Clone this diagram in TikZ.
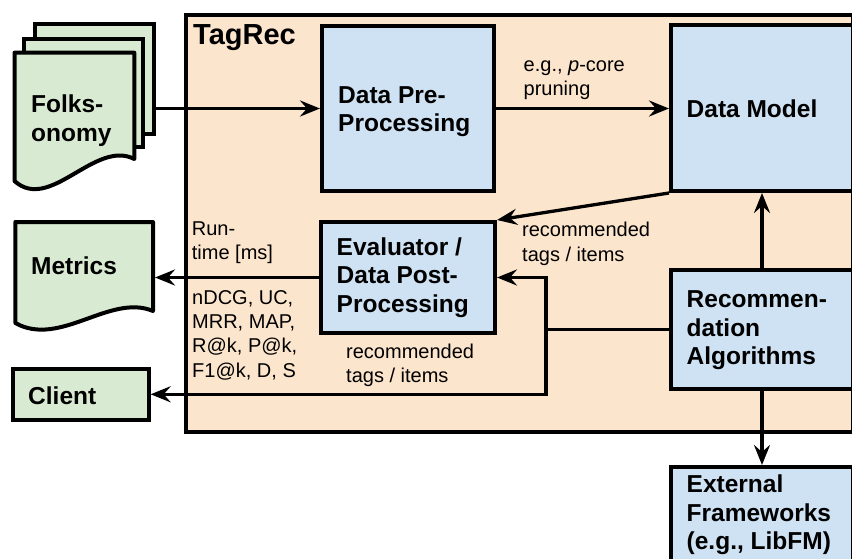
\documentclass[tikz,border=0pt]{standalone}
\usepackage{fontspec}
\setmainfont{Liberation Sans}
\usetikzlibrary{arrows.meta}
\definecolor{peach}{HTML}{FCE5CD}
\definecolor{lblue}{HTML}{CFE2F3}
\definecolor{lgreen}{HTML}{D9EAD3}
\newcommand\toph[1]{\rule{0pt}{#1}}
\begin{document}
\begin{tikzpicture}[x=1pt,y=-1pt,
  bluebox/.style={draw, line width=4pt, fill=lblue, anchor=center, inner sep=0pt},
  greenbox/.style={draw, line width=4pt, fill=lgreen, anchor=center, inner sep=0pt},
  docshape/.style={draw, line width=4pt, fill=lgreen, line join=round},
  btxt/.style={font=\fontsize{24.5}{28.5}\selectfont\bfseries, align=left, inner sep=0pt, anchor=north west},
  ltxt/.style={font=\fontsize{20}{24.3}\selectfont, align=left, inner sep=0pt, anchor=north west},
  conn/.style={line width=3.3pt, -{Stealth[length=20pt,width=16pt,inset=7pt]}},
  plainline/.style={line width=3.3pt}]
\useasboundingbox (0,0) rectangle (852,559);
\clip (0,0) rectangle (852,559);
\fill[white] (0,0) rectangle (852,559);

% container
\node[draw, line width=4pt, fill=peach, anchor=center, inner sep=0pt,
      minimum width=666.7, minimum height=417.3] (tagrec) at (519.7,223.3) {};
\node[anchor=base west, inner sep=0pt, font=\fontsize{29}{34}\selectfont\bfseries] (title) at (193,45) {TagRec};

% Folksonomy stack
\node[greenbox, minimum width=119.2, minimum height=109.4] (folkback) at (94.1,79) {};
\node[greenbox, minimum width=119.2, minimum height=108.3] (folkmid) at (83.4,92.85) {};
\path[docshape] (14.5,52.7) -- (134.3,52.7) -- (134.3,159)
   .. controls (95,139) and (50,213) .. (14.5,181) -- cycle;
\node[btxt] (folk) at (31,93.5) {\toph{19pt}Folks-\\onomy};

% Metrics document
\path[docshape] (15.3,222) -- (153,222) -- (153,311)
   .. controls (110,293) and (60,348) .. (15.3,323) -- cycle;
\node[inner sep=0pt, outer sep=2pt, minimum width=137.7, minimum height=100] (metrics) at (84.15,272) {};
\node[btxt] (metricstext) at (31,255.3) {\toph{19pt}Metrics};

% Client
\node[greenbox, minimum width=135.7, minimum height=51.3] (client) at (80.8,394.3) {};
\node[btxt] (clienttext) at (28,385) {\toph{19pt}Client};

% blue boxes
\node[bluebox, minimum width=172, minimum height=165] (dpp) at (408,108.5) {};
\node[btxt] (dpptext) at (338,84) {\toph{19pt}Data Pre-\\Processing};

\node[bluebox, minimum width=182, minimum height=166] (dm) at (762,108) {};
\node[btxt] (dmtext) at (686.5,98.3) {\toph{19pt}Data Model};

\node[bluebox, minimum width=174, minimum height=111] (eval) at (408,277.5) {};
\node[btxt] (evaltext) at (336.5,236) {\toph{19pt}Evaluator /\\Data Post-\\Processing};

\node[bluebox, minimum width=182, minimum height=119] (ra) at (762,329.5) {};
\node[btxt] (ratext) at (686.5,288.7) {\toph{19pt}Recommen-\\dation\\Algorithms};

\node[bluebox, minimum width=182, minimum height=95] (ext) at (762,514.5) {};
\node[btxt] (exttext) at (686.5,473.7) {\toph{19pt}External\\Frameworks\\(e.g., LibFM)};

% connectors
\coordinate (split) at ([xshift=-123pt]ra.west);
\draw[conn] (folkback.east |- dpp.west) -- (dpp.west);
\draw[conn] (dpp.east) -- (dpp.east -| dm.west);
\draw[conn] (dm.south west) -- (eval.north east);
\draw[conn] (ra.north) -- (dm.south);
\draw[conn] (ra.south) -- (ext.north);
\draw[conn] (ra.west) -- (split) |- (eval.east);
\draw[conn] (split) |- (client.east);
\draw[conn] (eval.west) -- (eval.west -| metrics.east);

% labels
\node[ltxt] (lblprune) at (523.5,56) {\toph{15pt}e.g., \textit{p}-core\\pruning};
\node[ltxt] (lblrec1) at (522,221.5) {\toph{15pt}recommended\\tags / items};
\node[ltxt] (lblrun) at (191.7,220) {\toph{15pt}Run-\\time [ms]};
\node[ltxt] (lblmet) at (192,289) {\toph{15pt}nDCG, UC,\\MRR, MAP,\\R@k, P@k,\\F1@k, D, S};
\node[ltxt] (lblrec2) at (346,343.3) {\toph{15pt}recommended\\tags / items};
\end{tikzpicture}
\end{document}
